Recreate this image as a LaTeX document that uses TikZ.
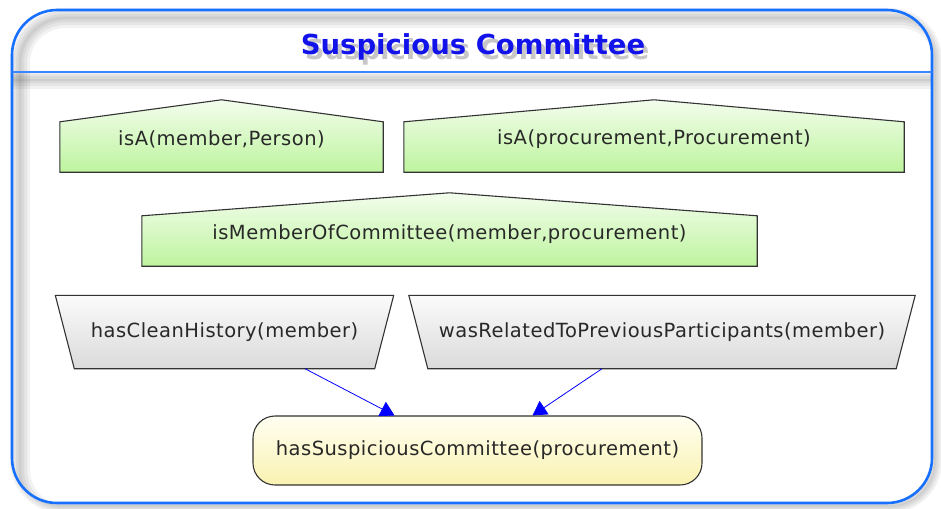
\documentclass[tikz,border=0pt]{standalone}
\usepackage{fontspec}
\setmainfont{DejaVu Sans}
\newfontfamily\headfont{DejaVu Sans}
\newfontfamily\bodyfont[LetterSpace=2.5]{DejaVu Sans}
\usetikzlibrary{arrows.meta,backgrounds}

\definecolor{frameblue}{RGB}{24,112,255}
\definecolor{titleblue}{RGB}{18,18,235}
\definecolor{greentop}{RGB}{243,253,237}
\definecolor{greenbot}{RGB}{190,244,158}
\definecolor{greytop}{RGB}{251,251,251}
\definecolor{greybot}{RGB}{218,218,218}
\definecolor{yellowtop}{RGB}{255,255,242}
\definecolor{yellowbot}{RGB}{250,242,176}
\definecolor{textgrey}{RGB}{40,40,40}

\begin{document}
\begin{tikzpicture}[x=1pt,y=-1pt,
  body/.style={inner sep=0pt, font=\bodyfont\fontsize{19.5}{22}\selectfont, text=textgrey},
  outline/.style={draw=black!80, line width=1.1pt},
  fact/.style={outline, top color=greentop, bottom color=greenbot},
  cond/.style={outline, top color=greytop, bottom color=greybot},
  goal/.style={body, outline, rounded corners=22pt, top color=yellowtop, bottom color=yellowbot},
  conn/.style={blue, line width=0.8pt, -{Triangle[length=14pt,width=16pt]}},
  frame/.style={rounded corners=45pt},
  shade/.style={black, opacity=0.05},
  heading/.style={anchor=base, font=\headfont\bfseries\fontsize{27.5}{31}\selectfont}
]
\useasboundingbox (0,0) rectangle (941,508);

% ---- title bar and frame ----
\begin{scope}[on background layer]
  % soft outer shadow
  \foreach \w in {14,10,6,2}
    \draw[frame, shade, line width=\w pt] (17,15) rectangle (935,506);
  \fill[frame, white] (12,10) rectangle (932,503);
  % inner shadow along the top and left edges
  \begin{scope}
    \clip[frame] (12,10) rectangle (932,503);
    \foreach \w in {20,14,8,3}
      \draw[frame, shade, line width=\w pt] (20,18) rectangle (945,515);
    \begin{scope}
      \clip (12,73) rectangle (932,503);
      \foreach \w in {18,12,7,2}
        \draw[shade, line width=\w pt] (12,80) -- (932,80);
    \end{scope}
  \end{scope}
  \draw[frame, frameblue, line width=2.6pt] (12,10) rectangle (932,503);
  \draw[frameblue!85, line width=1.6pt] (12,72) -- (932,72);
\end{scope}

% title with its drop shadow
\node[heading, text=black, opacity=0.22] (tshadow) at (477,60) {Suspicious Committee};
\node[heading, text=titleblue] (title) at (473,55) {Suspicious Committee};

% ---- nodes ----
\node[body, minimum width=323pt, minimum height=66pt] (person) at (221.5,139) {isA(member,Person)};
\node[body, minimum width=500pt, minimum height=66pt] (proc) at (654,139) {isA(procurement,Procurement)};
\node[body, minimum width=615pt, minimum height=64pt] (member) at (449.5,234) {isMemberOfCommittee(member,procurement)};
\node[body, minimum width=300pt, minimum height=73pt] (clean) at (224.5,332) {hasCleanHistory(member)};
\node[body, minimum width=468pt, minimum height=73pt] (related) at (662,332) {wasRelatedToPreviousParticipants(member)};
\node[goal, minimum width=449pt, minimum height=69pt] (suspicious) at (477.5,450.5) {hasSuspiciousCommittee(procurement)};

\begin{scope}[on background layer]
  % pentagon bodies: side drop below the node top, roof rise above it
  \foreach \n/\s/\r in {person/16/6, proc/16/6, member/14/9}
    \draw[fact] (\n.south west) -- ([yshift=-\s pt]\n.north west) -- ([yshift=\r pt]\n.north)
      -- ([yshift=-\s pt]\n.north east) -- (\n.south east) -- cycle;
  \foreach \n in {clean, related}
    \draw[cond] (\n.south west) -- ([xshift=-19pt]\n.north west)
      -- ([xshift=19pt]\n.north east) -- (\n.south east) -- cycle;
\end{scope}

% ---- connectors ----
\draw[conn] ([xshift=80.5pt]clean.south) -- ([xshift=-83pt]suspicious.north);
\draw[conn] ([xshift=-60pt]related.south) -- ([xshift=55pt]suspicious.north);
\end{tikzpicture}
\end{document}
